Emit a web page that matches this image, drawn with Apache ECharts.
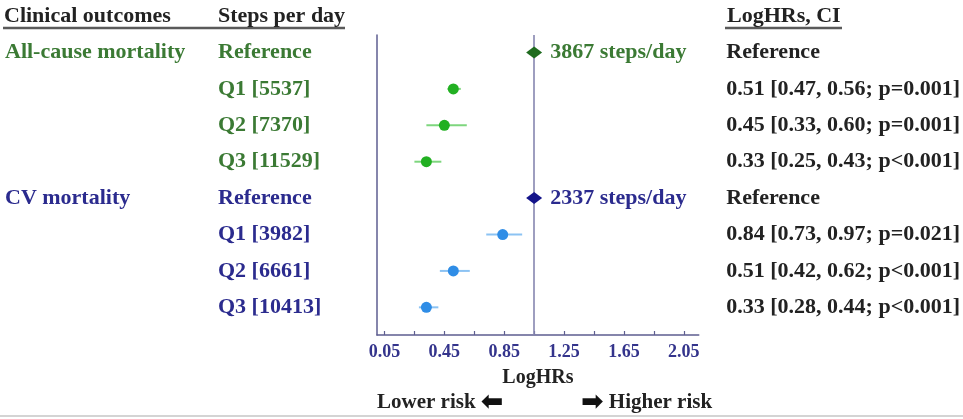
<!DOCTYPE html>
<html>
<head>
<meta charset="utf-8">
<script src="https://cdn.jsdelivr.net/npm/echarts@6/dist/echarts.min.js"></script>
<style>
  html, body { margin: 0; padding: 0; background: #ffffff; }
  #chart { width: 963px; height: 419px; }
</style>
</head>
<body>
<div id="chart"></div>
<script>
// ---- data ----
var outcomeLabels = ['All-cause mortality', '', '', '', 'CV mortality', '', '', ''];
var stepLabels = ['Reference', 'Q1 [5537]', 'Q2 [7370]', 'Q3 [11529]', 'Reference', 'Q1 [3982]', 'Q2 [6661]', 'Q3 [10413]'];
var groups = ['g', 'g', 'g', 'g', 'b', 'b', 'b', 'b'];
var logHR = [1.05, 0.51, 0.45, 0.33, 1.05, 0.84, 0.51, 0.33];
var ciLow = [null, 0.47, 0.33, 0.25, null, 0.73, 0.42, 0.28];
var ciHigh = [null, 0.56, 0.60, 0.43, null, 0.97, 0.62, 0.41];
var ciText = ['Reference', '0.51 [0.47, 0.56; p=0.001]', '0.45 [0.33, 0.60; p=0.001]', '0.33 [0.25, 0.43; p<0.001]',
              'Reference', '0.84 [0.73, 0.97; p=0.021]', '0.51 [0.42, 0.62; p<0.001]', '0.33 [0.28, 0.44; p<0.001]'];
var refNotes = ['3867 steps/day', '', '', '', '2337 steps/day', '', '', ''];
var referenceX = 1.05;
var xTickValues = [0.05, 0.25, 0.45, 0.65, 0.85, 1.05, 1.25, 1.45, 1.65, 1.85, 2.05];
var xLabelValues = [0.05, 0.45, 0.85, 1.25, 1.65, 2.05];

// ---- styling ----
var FONT = 'Liberation Serif';
var FS = 22;
var greenText = '#3b7a34';
var navyText = '#2b2b8e';
var darkText = '#222222';
var axisColor = '#5e5e90';
var rowIdx = stepLabels.map(function (_, i) { return i; });

var pointData = logHR.map(function (v, i) {
  var isRef = ciLow[i] === null;
  var col = groups[i] === 'g' ? (isRef ? '#1f6b1f' : '#22b022') : (isRef ? '#14148a' : '#2f8de6');
  return {
    value: [v, i],
    symbol: isRef ? 'diamond' : 'circle',
    symbolSize: isRef ? [16, 12] : 11,
    itemStyle: { color: col, opacity: 1 },
    label: {
      show: refNotes[i] !== '',
      formatter: refNotes[i],
      position: 'right',
      distance: 8,
      color: groups[i] === 'g' ? greenText : navyText,
      fontFamily: FONT, fontWeight: 'bold', fontSize: FS
    }
  };
});

var ciData = [];
logHR.forEach(function (v, i) {
  if (ciLow[i] !== null) ciData.push([ciLow[i], ciHigh[i], i, groups[i] === 'g' ? 0 : 1]);
});

var baseY = { type: 'value', inverse: true, min: -0.48, max: 7.76, splitLine: { show: false }, axisTick: { show: false } };

function rowAxis(pos, margin, textArr, colorMode) {
  return Object.assign({}, baseY, {
    position: pos,
    axisLine: { show: false },
    axisLabel: {
      show: true,
      customValues: rowIdx,
      margin: margin,
      align: 'left',
      formatter: function (val) {
        var i = Math.round(val);
        var t = textArr[i];
        if (!t) return '';
        var key = colorMode === 'dark' ? 'd' : groups[i];
        return '{' + key + '|' + t + '}';
      },
      rich: {
        g: { color: greenText, fontFamily: FONT, fontWeight: 'bold', fontSize: FS },
        b: { color: navyText, fontFamily: FONT, fontWeight: 'bold', fontSize: FS },
        d: { color: darkText, fontFamily: FONT, fontWeight: 'bold', fontSize: FS }
      }
    }
  });
}

var chart = echarts.init(document.getElementById('chart'), null, { renderer: 'canvas' });

var headStyle = { fontFamily: FONT, fontWeight: 'bold', fontSize: FS, color: darkText };
var arrowRich = {
  t: { fontFamily: FONT, fontWeight: 'bold', fontSize: 21, color: darkText, verticalAlign: 'middle' },
  a: { fontFamily: 'DejaVu Sans', fontWeight: 'bold', fontSize: 27, color: '#111111', verticalAlign: 'middle' }
};

chart.setOption({
  backgroundColor: '#ffffff',
  animation: false,
  title: [
    { text: 'Clinical outcomes', left: 4, top: 5, padding: 0, textStyle: headStyle },
    { text: 'Steps per day', left: 218, top: 5, padding: 0, textStyle: headStyle },
    { text: 'LogHRs, CI', left: 727, top: 5, padding: 0, textStyle: headStyle },
    { text: '{t|Lower risk }{a|\u2B05}', left: 377, top: 389, padding: 0, textStyle: { rich: arrowRich } },
    { text: '{a|\u27A1}{t| Higher risk}', left: 581, top: 389, padding: 0, textStyle: { rich: arrowRich } }
  ],
  graphic: [
    { type: 'line', shape: { x1: 3, y1: 28, x2: 345, y2: 28 }, style: { stroke: '#5a5a5a', lineWidth: 2.5 } },
    { type: 'line', shape: { x1: 725, y1: 28, x2: 842, y2: 28 }, style: { stroke: '#5a5a5a', lineWidth: 2.5 } },
    { type: 'rect', shape: { x: 0, y: 415, width: 963, height: 2 }, style: { fill: '#d4d4d4' } }
  ],
  grid: { left: 377, top: 35, width: 322.5, height: 300, containLabel: false },
  xAxis: {
    type: 'value', min: 0, max: 2.15,
    name: 'LogHRs', nameLocation: 'middle', nameGap: 33,
    nameTextStyle: { fontFamily: FONT, fontWeight: 'bold', fontSize: 20, color: darkText },
    axisLine: { show: true, onZero: false, lineStyle: { color: axisColor, width: 1.5 } },
    axisTick: { show: true, inside: true, length: 4, customValues: xTickValues, lineStyle: { color: axisColor, width: 1.2 } },
    axisLabel: {
      customValues: xLabelValues, margin: 8,
      formatter: function (v) { return v.toFixed(2); },
      fontFamily: FONT, fontWeight: 'bold', fontSize: 18, color: '#34348c'
    },
    splitLine: { show: false }
  },
  yAxis: [
    Object.assign({}, baseY, { position: 'left', axisLine: { show: true, onZero: false, lineStyle: { color: axisColor, width: 1.5 } }, axisLabel: { show: false } }),
    rowAxis('left', 159, stepLabels, 'group'),
    rowAxis('left', 372, outcomeLabels, 'group'),
    rowAxis('right', 27.5, ciText, 'dark')
  ],
  series: [
    {
      type: 'custom',
      xAxisIndex: 0, yAxisIndex: 0,
      data: ciData,
      renderItem: function (params, api) {
        var a = api.coord([api.value(0), api.value(2)]);
        var b = api.coord([api.value(1), api.value(2)]);
        return {
          type: 'line',
          shape: { x1: a[0], y1: a[1], x2: b[0], y2: b[1] },
          style: { stroke: api.value(3) === 0 ? '#7ed67e' : '#8cc3f3', lineWidth: 2 }
        };
      },
      z: 2,
      markLine: {
        silent: true,
        symbol: 'none',
        label: { show: false },
        lineStyle: { color: '#8686b0', width: 1.6, type: 'solid' },
        data: [{ xAxis: referenceX }]
      }
    },
    {
      type: 'scatter',
      xAxisIndex: 0, yAxisIndex: 0,
      data: pointData,
      itemStyle: { opacity: 1 },
      z: 5
    }
  ]
});
</script>
</body>
</html>
